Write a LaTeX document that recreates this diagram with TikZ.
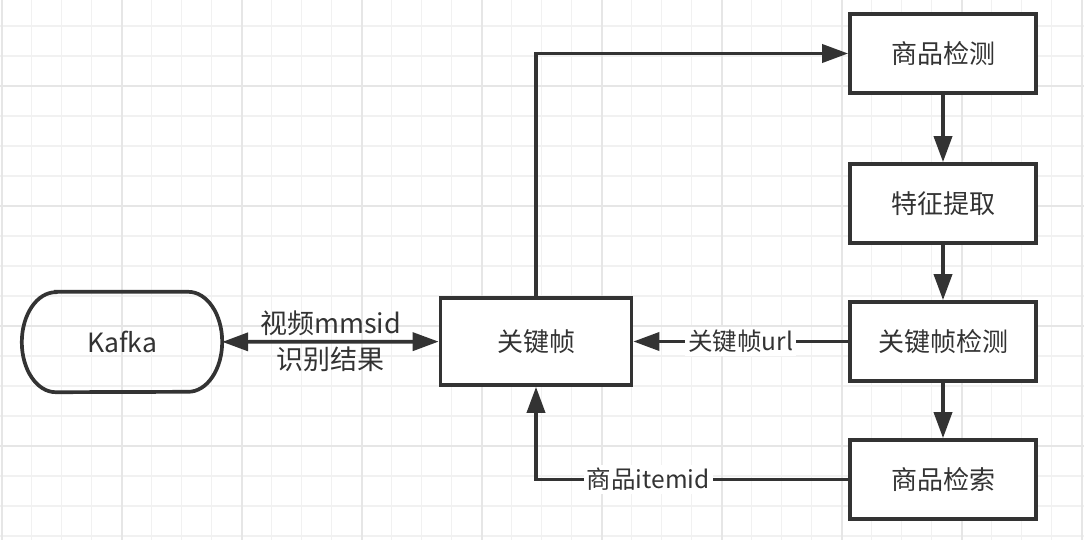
\documentclass[tikz,border=0pt]{standalone}
\usepackage{fontspec}
\setmainfont{Noto Sans CJK SC}
\usetikzlibrary{arrows.meta}
\definecolor{ink}{HTML}{333333}
\definecolor{gridminor}{HTML}{F1F1F1}
\definecolor{gridmajor}{HTML}{E6E6E6}
\begin{document}
\begin{tikzpicture}[x=1pt,y=-1pt,
  box/.style={draw=ink, line width=3.7pt, fill=white, minimum width=186pt, minimum height=79pt, inner sep=0pt, text=ink, font=\fontsize{26}{30}\selectfont},
  conn/.style={draw=ink, line width=3.7pt, -{Triangle[length=26pt,width=18pt]}},
  lbl/.style={text=ink, font=\fontsize{24.5}{28}\selectfont, fill=white, inner sep=3pt},
  lblplain/.style={text=ink, font=\fontsize{27}{30}\selectfont, inner sep=0pt}]
\fill[white] (0,0) rectangle (1084,540);
\useasboundingbox (0,0) rectangle (1084,540);
% grid
\foreach \k in {0,...,36} \draw[gridminor, line width=1.2pt] ({1.7+30*\k},0) -- ({1.7+30*\k},540);
\foreach \k in {0,...,17} \draw[gridminor, line width=1.2pt] (0,{26+30*\k}) -- (1084,{26+30*\k});
\foreach \k in {0,...,9} \draw[gridmajor, line width=1.6pt] ({1.7+120*\k},0) -- ({1.7+120*\k},540);
\foreach \k in {0,...,3} \draw[gridmajor, line width=1.6pt] (0,{86+120*\k}) -- (1084,{86+120*\k});
% nodes
\node[minimum width=200pt, minimum height=100pt, inner sep=0pt, text=ink, font=\fontsize{26.5}{30}\selectfont] (kafka) at (122,342) {Kafka};
\draw[draw=ink, line width=3.7pt] ([xshift=34pt]kafka.north west) -- ([xshift=-34pt]kafka.north east)
  arc[start angle=90, end angle=-90, x radius=34pt, y radius=50pt]
  -- ([xshift=34pt]kafka.south west)
  arc[start angle=270, end angle=90, x radius=34pt, y radius=50pt] -- cycle;
\node[box, minimum width=191pt, minimum height=87pt] (kf) at (536,341.5) {关键帧};
\node[box] (det) at (943,53.5) {商品检测};
\node[box] (feat) at (943,203.5) {特征提取};
\node[box] (kfd) at (943,341.5) {关键帧检测};
\node[box] (ret) at (943,479.5) {商品检索};
% connectors
\draw[draw=ink, line width=3.7pt, {Triangle[length=26pt,width=18pt]}-{Triangle[length=26pt,width=18pt]}] (kafka) --
  node[lblplain, midway, yshift=18pt] {视频mmsid}
  node[lblplain, midway, yshift=-18pt] {识别结果} (kf);
\draw[conn] (kf.north) |- (det.west);
\draw[conn] (det) -- (feat);
\draw[conn] (feat) -- (kfd);
\draw[conn] (kfd) -- (ret);
\draw[conn] (kfd) -- node[lbl] {关键帧url} (kf);
\draw[conn] (ret.west) -| node[lbl, pos=0.32] {商品itemid} (kf.south);
\end{tikzpicture}
\end{document}
